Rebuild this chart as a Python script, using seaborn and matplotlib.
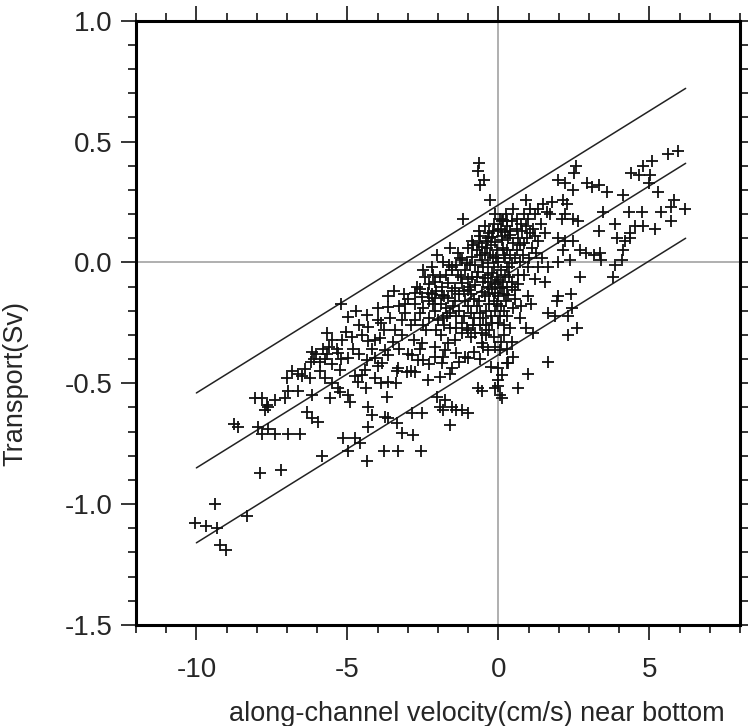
import numpy as np
import pandas as pd
import seaborn as sns
import matplotlib.pyplot as plt
from matplotlib.ticker import MultipleLocator

# scatter points (velocity cm/s, transport Sv)
pts_top = [(-0.64, 0.41), (-0.69, 0.38), (-0.47, 0.34), (-0.62, 0.32), (-0.27, 0.26),
           (-1.17, 0.18), (-0.64, 0.13), (0.11, 0.17), (-2.03, 0.03), (-2.19, -0.02),
           (-2.16, -0.05), (-2.43, -0.06), (-0.86, 0.09), (-0.33, 0.10), (-1.26, 0.02),
           (-1.55, -0.02), (-3.45, -0.12), (-3.12, -0.13), (-2.71, -0.10), (-3.65, -0.14)]

pts_core = [(0.05, 0.18), (0.16, 0.175), (0.27, 0.17), (0.0, 0.134), (0.22, 0.127),
            (0.38, 0.113), (-0.22, 0.106), (-0.11, 0.086), (0.11, 0.093), (0.33, 0.10),
            (0.5, 0.079), (-0.83, 0.072), (-0.72, 0.051), (-0.55, 0.065), (-0.44, 0.037),
            (-1.22, 0.01), (-1.05, -0.004), (-0.88, 0.024), (-0.77, -0.011), (-0.55, 0.01),
            (-0.33, -0.004), (-0.17, 0.024), (0.0, 0.003), (0.22, 0.017), (0.44, -0.004),
            (-1.55, -0.03), (-1.33, -0.052), (-1.11, -0.03), (-0.88, -0.059), (-0.66, -0.038),
            (-0.44, -0.066), (-0.22, -0.045), (0.0, -0.073), (0.22, -0.052), (0.44, -0.08),
            (-2.1, -0.08), (-1.88, -0.1), (-1.66, -0.087), (-1.44, -0.107), (-1.22, -0.087),
            (-1.0, -0.114), (-0.77, -0.094), (-0.55, -0.121), (-0.33, -0.1), (-0.11, -0.128),
            (0.11, -0.107), (0.33, -0.135), (0.55, -0.114), (-2.76, -0.128), (-2.54, -0.142),
            (-2.32, -0.128), (-2.1, -0.149), (-1.88, -0.135), (-1.66, -0.149),
            (0.6, 0.18), (0.75, 0.16), (0.9, 0.15), (1.05, 0.12), (0.65, 0.10), (0.85, 0.08),
            (1.1, 0.06), (1.3, 0.09), (0.6, 0.05), (0.8, 0.03), (1.0, 0.02), (1.25, 0.04),
            (0.7, 0.0), (1.55, 0.12), (1.4, 0.16), (1.15, 0.14),
            (-2.75, -0.17), (-2.5, -0.19), (-2.3, -0.16), (-2.1, -0.2), (-1.9, -0.17),
            (-1.7, -0.22), (-1.5, -0.18), (-1.3, -0.2), (-1.1, -0.16), (-0.9, -0.21),
            (-0.7, -0.18), (-0.5, -0.23), (-0.3, -0.17), (-0.1, -0.2), (0.1, -0.18),
            (0.3, -0.22), (0.5, -0.19), (-2.0, -0.24), (-1.2, -0.25), (-0.6, -0.26),
            (0.0, -0.25), (-1.6, -0.27), (-0.3, -0.28), (0.4, -0.27),
            (-0.45, 0.15), (-0.3, 0.12), (-0.15, 0.16), (0.08, 0.14), (0.3, 0.15),
            (0.45, 0.17), (0.62, 0.14), (0.15, 0.06), (-0.05, 0.05), (-0.25, 0.07),
            (-0.4, 0.09), (-0.6, 0.11), (-1.0, 0.06), (-1.35, 0.04), (0.28, 0.05),
            (0.4, 0.03), (-0.08, 0.02), (-0.28, 0.03), (-0.62, 0.03), (-0.95, -0.01),
            (-1.4, -0.01), (-1.75, -0.05), (-0.15, -0.02), (0.08, -0.03), (0.3, -0.02),
            (-0.5, -0.02), (-0.7, -0.06), (-0.35, -0.05), (-0.05, -0.06), (0.15, -0.08),
            (0.35, -0.06), (-1.0, -0.07), (-1.25, -0.06), (-1.95, -0.06), (-2.3, -0.09),
            (-0.9, -0.13), (-0.45, -0.14), (-0.2, -0.11), (0.0, -0.14), (0.2, -0.13),
            (-1.3, -0.13), (-1.55, -0.12), (-2.05, -0.12), (-2.6, -0.11), (-3.0, -0.15),
            (-0.65, -0.16), (-0.15, -0.16), (0.25, -0.16), (-1.0, -0.18), (-1.75, -0.19),
            (-2.15, -0.17), (-2.6, -0.21), (-3.1, -0.17), (-0.4, -0.2), (0.05, -0.22),
            (-0.8, -0.23), (-1.4, -0.22), (-1.85, -0.23), (-2.3, -0.23), (-2.75, -0.24),
            (-0.2, -0.25), (0.2, -0.26), (-1.05, -0.27), (-2.05, -0.28), (-0.55, -0.29),
            (0.1, -0.33), (-0.15, -0.31), (0.35, -0.02), (0.55, 0.02), (0.7, 0.07),
            (0.95, 0.1), (1.2, 0.11), (0.85, 0.2), (1.05, 0.22), (1.3, 0.22),
            (0.5, 0.22), (0.25, 0.2), (-0.1, 0.2), (0.65, -0.05), (0.85, -0.05),
            (0.55, -0.15), (0.75, -0.18), (0.45, -0.1), (-1.6, 0.06), (-1.85, 0.0),
            (-2.5, -0.03),
            (-0.38, 0.06), (-0.18, 0.13), (0.12, 0.11), (-0.52, -0.08), (-0.25, -0.08),
            (0.05, -0.1), (0.28, -0.1), (-0.82, -0.15), (-0.32, -0.13), (-0.05, -0.17),
            (-1.15, -0.12), (-1.45, -0.16), (-1.8, -0.14), (-2.2, -0.13), (-1.6, -0.21),
            (-1.15, -0.22), (-0.6, -0.21), (-0.25, -0.22), (0.2, -0.2), (-1.4, -0.27),
            (-0.85, -0.26), (-0.4, -0.26), (-1.8, -0.26), (-2.5, -0.26), (-0.65, 0.08),
            (0.18, 0.03), (-0.12, -0.09), (-0.95, -0.1), (-1.65, -0.01), (0.4, 0.13)]

pts_right = [(2.57, 0.40), (2.51, 0.37), (1.98, 0.34), (2.20, 0.33), (2.48, 0.30),
             (2.92, 0.33), (3.09, 0.31), (3.33, 0.32), (3.58, 0.29), (4.14, 0.28),
             (4.38, 0.37), (4.80, 0.40), (5.08, 0.42), (4.65, 0.36), (5.02, 0.36),
             (5.00, 0.33), (5.27, 0.29), (5.60, 0.45), (5.96, 0.46), (5.82, 0.26),
             (5.73, 0.23), (6.17, 0.22), (5.40, 0.21), (5.73, 0.17), (4.34, 0.21),
             (4.74, 0.21), (3.86, 0.16), (4.52, 0.15), (4.80, 0.15), (5.18, 0.14),
             (4.36, 0.12), (4.36, 0.10), (4.19, 0.09), (3.92, 0.10), (3.34, 0.13),
             (4.14, 0.05), (4.08, 0.01), (3.86, -0.01), (3.78, -0.06), (3.37, 0.04),
             (3.40, 0.01), (3.15, 0.03), (2.90, 0.04), (2.70, 0.05), (2.48, 0.09),
             (3.47, 0.21), (2.65, 0.17), (2.48, 0.18), (2.10, 0.18), (1.71, 0.20),
             (2.20, 0.20), (0.93, 0.26), (1.76, 0.25), (2.15, 0.26), (2.26, 0.24),
             (1.49, 0.24), (1.60, 0.21), (1.21, 0.20), (0.99, 0.18), (1.98, 0.10),
             (2.20, 0.09), (2.15, 0.05), (2.37, 0.01), (1.98, 0.00), (1.65, -0.02),
             (1.32, -0.02), (0.99, -0.02), (2.70, -0.06), (1.43, 0.02), (1.21, -0.07),
             (1.54, -0.08), (0.66, -0.09), (0.99, -0.14), (1.98, -0.14), (2.40, -0.13),
             (0.77, 0.13), (1.08, -0.17), (1.93, -0.16), (0.72, -0.23), (0.90, -0.27),
             (1.15, -0.29), (1.63, -0.21), (1.87, -0.22), (2.29, -0.22), (2.45, -0.19),
             (2.31, -0.30), (2.59, -0.27), (1.65, -0.41), (0.97, -0.46), (0.66, -0.52)]

pts_mid = [(-4.97, -0.225), (-4.36, -0.218), (-4.31, -0.266), (-3.98, -0.19), (-3.64, -0.183),
           (-5.03, -0.287), (-5.19, -0.32), (-4.86, -0.307), (-5.30, -0.376), (-4.97, -0.397),
           (-5.25, -0.445), (-5.30, -0.52), (-5.25, -0.535), (-4.97, -0.549), (-4.91, -0.576),
           (-4.64, -0.494), (-4.53, -0.466), (-4.75, -0.47), (-4.42, -0.445), (-4.36, -0.404),
           (-4.09, -0.397), (-3.86, -0.417), (-3.64, -0.494), (-3.70, -0.556), (-4.31, -0.327),
           (-4.09, -0.32), (-3.91, -0.314), (-3.76, -0.362), (-3.64, -0.383), (-3.42, -0.28),
           (-3.20, -0.238), (-3.09, -0.211), (-2.87, -0.383), (-2.65, -0.404), (-2.49, -0.404),
           (-3.32, -0.438), (-3.37, -0.45), (-3.04, -0.452), (-2.76, -0.452), (-2.90, -0.45),
           (-2.32, -0.486), (-1.93, -0.475), (-1.60, -0.462), (-1.55, -0.438), (-1.88, -0.417),
           (-2.10, -0.39), (-1.83, -0.39), (-2.54, -0.335), (-2.10, -0.349), (-1.77, -0.362),
           (-1.66, -0.335), (-1.39, -0.376), (-1.11, -0.39), (-1.0, -0.397), (-0.55, -0.335),
           (-0.50, -0.35), (-0.33, -0.362), (-0.11, -0.349), (0.05, -0.362), (-1.22, -0.29),
           (-1.0, -0.28), (-0.77, -0.29), (-0.23, -0.432), (0.0, -0.438), (0.27, -0.417),
           (0.11, -0.466), (0.0, -0.486), (-0.67, -0.52), (-0.55, -0.53), (-0.11, -0.52),
           (0.0, -0.51), (0.05, -0.549), (0.11, -0.56), (0.33, -0.417), (-2.04, -0.556),
           (-1.77, -0.569), (-1.93, -0.597), (-1.83, -0.611), (-1.55, -0.597), (-1.39, -0.611),
           (-1.21, -0.611), (-1.02, -0.622), (-1.60, -0.673), (-2.87, -0.624), (-2.52, -0.622),
           (-3.76, -0.638), (-3.64, -0.645), (-4.20, -0.631), (-4.31, -0.597), (-4.31, -0.68),
           (-3.37, -0.666), (-3.20, -0.707), (-2.82, -0.714), (-5.14, -0.728), (-4.75, -0.728),
           (-4.58, -0.749), (-4.34, -0.82), (-4.97, -0.78), (-3.78, -0.78), (-3.34, -0.78),
           (-2.56, -0.78),
           (-2.4, -0.28), (-1.9, -0.3), (-1.45, -0.32), (-0.9, -0.31), (-0.4, -0.3),
           (0.2, -0.3), (0.45, -0.33), (-0.8, -0.37), (-0.6, -0.4), (0.3, -0.36),
           (0.5, -0.39), (-1.3, -0.41), (-2.3, -0.42),
           (-5.2, -0.17), (-4.7, -0.2), (-4.0, -0.24), (-3.6, -0.23), (-3.3, -0.18),
           (-3.8, -0.28), (-4.5, -0.3), (-3.5, -0.33), (-3.2, -0.3), (-2.9, -0.26), (-2.8, -0.32),
           (-5.5, -0.42), (-5.2, -0.4), (-4.8, -0.36), (-4.6, -0.38), (-4.2, -0.36),
           (-4.0, -0.43), (-5.9, -0.41), (-6.4, -0.44), (-4.4, -0.52), (-4.1, -0.48),
           (-3.9, -0.5), (-3.4, -0.5), (-3.0, -0.38), (-2.6, -0.36), (-3.3, -0.36),
           (-3.9, -0.25), (-4.6, -0.26), (-5.5, -0.32)]

pts_left = [(-5.67, -0.29), (-6.17, -0.37), (-6.12, -0.40), (-6.20, -0.41), (-6.05, -0.38),
            (-5.80, -0.36), (-5.68, -0.38), (-5.62, -0.35), (-5.74, -0.40), (-5.35, -0.36),
            (-6.84, -0.45), (-7.01, -0.48), (-6.62, -0.46), (-6.51, -0.47), (-6.24, -0.48),
            (-5.91, -0.45), (-5.74, -0.48), (-6.96, -0.53), (-6.63, -0.53), (-7.07, -0.56),
            (-6.18, -0.55), (-8.06, -0.56), (-7.84, -0.56), (-7.40, -0.57), (-7.67, -0.59),
            (-7.73, -0.61), (-7.62, -0.60), (-5.58, -0.56), (-6.35, -0.62), (-6.18, -0.645),
            (-5.97, -0.66), (-8.75, -0.67), (-8.61, -0.68), (-7.95, -0.68), (-7.62, -0.69),
            (-7.84, -0.71), (-7.40, -0.71), (-6.96, -0.71), (-6.57, -0.71), (-5.52, -0.50),
            (-5.85, -0.80), (-7.89, -0.87), (-7.20, -0.86), (-9.38, -1.00), (-10.05, -1.08),
            (-9.69, -1.09), (-9.33, -1.10), (-8.31, -1.05), (-9.22, -1.17), (-9.03, -1.19)]

# three parallel regression lines
line_x = [-10.0, 6.2]
line_upper = [-0.54, 0.72]
line_mid = [-0.85, 0.41]
line_lower = [-1.16, 0.10]

pts = pts_top + pts_core + pts_right + pts_mid + pts_left
df = pd.DataFrame(pts, columns=["velocity", "transport"])

sns.set_style("ticks")
plt.rcParams["font.family"] = ["Liberation Sans", "DejaVu Sans"]
plt.rcParams["axes.unicode_minus"] = False

fig = plt.figure(figsize=(7.48, 7.26), dpi=100)
ax = fig.add_axes([0.1818, 0.1391, 0.8075, 0.8324])

ax.axhline(0, color="#9a9a9a", lw=1.1, zorder=1)
ax.axvline(0, color="#9a9a9a", lw=1.1, zorder=1)

for ys in (line_upper, line_mid, line_lower):
    sns.lineplot(x=line_x, y=ys, color="#222222", lw=1.1, ax=ax, zorder=2)

sns.scatterplot(data=df, x="velocity", y="transport", marker="+", s=75,
                color="#111111", linewidth=1.3, ax=ax, legend=False, zorder=3)

ax.set_xlim(-12, 8)
ax.set_ylim(-1.5, 1.0)
ax.xaxis.set_major_locator(MultipleLocator(5))
ax.xaxis.set_minor_locator(MultipleLocator(1))
ax.yaxis.set_major_locator(MultipleLocator(0.5))
ax.yaxis.set_minor_locator(MultipleLocator(0.1))
ax.yaxis.set_major_formatter(plt.FormatStrFormatter("%.1f"))

for sp in ax.spines.values():
    sp.set_linewidth(2.2)
    sp.set_color("black")
ax.tick_params(which="both", direction="out", top=True, right=True,
               labeltop=False, labelright=False, width=1.1, color="black")
ax.tick_params(which="major", length=10.8, labelsize=20, pad=6)
ax.tick_params(which="minor", length=5.8)
ax.tick_params(axis="x", which="major", pad=12)

ax.set_xlabel("along-channel velocity(cm/s) near bottom", fontsize=19.5)
ax.set_ylabel("Transport(Sv)", fontsize=19.5)
ax.xaxis.set_label_coords(0.565, -0.126)
ax.yaxis.set_label_coords(-0.178, 0.40)

fig.savefig("out.png", dpi=100)
